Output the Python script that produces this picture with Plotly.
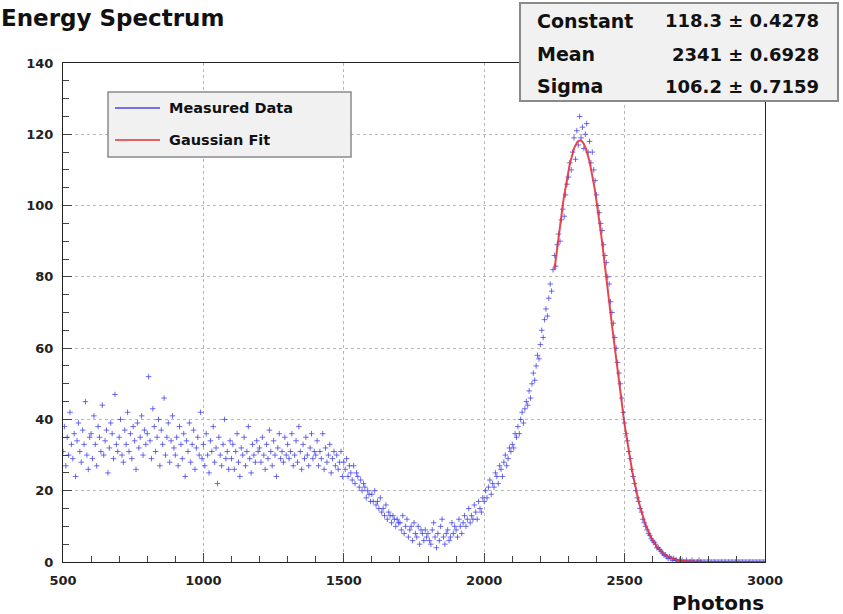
import numpy as np
import plotly.graph_objects as go

# Histogram contents, one bin every 5 photons from 500 to 3000
photons = np.arange(500, 3001, 5)
counts = [
    # 500-595
    31, 38, 27, 35, 30, 42, 33, 29, 36, 24, 34, 39, 31, 28, 37, 33, 45, 30, 26, 35,
    # 600-695
    36, 29, 41, 33, 27, 38, 35, 31, 44, 30, 34, 37, 25, 32, 39, 36, 29, 47, 33, 31,
    # 700-795
    35, 40, 30, 28, 37, 33, 42, 31, 36, 29, 38, 34, 26, 39, 32, 35, 41, 30, 37, 33,
    # 800-895
    36, 52, 34, 29, 43, 38, 31, 35, 40, 27, 37, 33, 46, 30, 35, 39, 28, 34, 41, 32,
    # 900-995
    30, 35, 27, 38, 33, 29, 36, 24, 34, 31, 39, 28, 33, 37, 26, 32, 35, 30, 42, 29,
    # 1000-1095
    33, 27, 36, 30, 25, 34, 31, 38, 28, 32, 22, 35, 30, 27, 33, 40, 29, 31, 26, 34,
    # 1100-1195
    29, 33, 26, 31, 36, 28, 24, 32, 30, 35, 27, 31, 38, 29, 25, 33, 30, 28, 34, 31,
    # 1200-1295
    32, 28, 35, 30, 26, 33, 29, 37, 31, 27, 34, 30, 24, 32, 36, 29, 31, 28, 35, 30,
    # 1300-1395
    33, 29, 31, 36, 27, 30, 34, 28, 38, 31, 26, 33, 29, 35, 30, 27, 32, 36, 29, 31,
    # 1400-1495
    30, 34, 27, 31, 29, 36, 26, 32, 28, 30, 33, 25, 29, 31, 27, 30, 26, 28, 31, 24,
    # 1500-1595
    28, 26, 29, 24, 27, 25, 23, 27, 22, 25, 24, 21, 23, 20, 22, 21, 18, 20, 19, 17,
    # 1600-1695
    19, 17, 20, 16, 17, 15, 18, 14, 15, 13, 16, 12, 14, 13, 11, 13, 12, 10, 12, 11,
    # 1700-1795
    11, 9, 13, 8, 10, 12, 7, 9, 10, 6, 11, 8, 7, 10, 5, 9, 8, 6, 9, 7,
    # 1800-1895
    8, 6, 5, 9, 11, 7, 4, 8, 6, 10, 12, 7, 5, 8, 9, 6, 7, 11, 8, 10,
    # 1900-1995
    9, 7, 12, 10, 8, 11, 13, 10, 12, 15, 11, 13, 12, 16, 14, 12, 17, 15, 14, 18,
    # 2000-2095
    17, 20, 18, 21, 23, 19, 22, 21, 25, 24, 22, 27, 26, 24, 28, 30, 27, 29, 32, 31,
    # 2100-2195
    33, 32, 36, 35, 38, 36, 40, 42, 39, 43, 45, 44, 48, 46, 50, 53, 51, 55, 58, 57,
    # 2200-2295
    61, 65, 63, 68, 71, 69, 74, 78, 76, 82, 86, 83, 89, 92, 90, 96, 99, 97, 103, 106,
    # 2300-2395
    108, 112, 110, 115, 119, 113, 121, 117, 125, 119, 122, 116, 120, 123, 115, 118, 112, 115, 110, 107,
    # 2400-2495
    103, 100, 98, 95, 93, 89, 86, 84, 80, 78, 73, 70, 67, 63, 60, 56, 53, 50, 46, 42,
    # 2500-2595
    39, 36, 34, 31, 29, 26, 24, 22, 20, 18, 17, 15, 14, 12, 11, 10, 9, 8, 7.5, 6.5,
    # 2600-2695
    6, 5.5, 5, 4, 4, 3.5, 3, 2.5, 2, 2, 1.5, 1, 1.5, 1, 0.5, 1, 0.5, 0.5, 0, 0.5,
    # 2700-2795
    0, 0.5, 0, 0, 0.5, 0, 0, 0, 0.5, 0, 0, 0, 0, 0.5, 0, 0, 0, 0, 0, 0,
    # 2800-2895
    0, 0, 0, 0, 0, 0, 0, 0, 0, 0, 0, 0, 0, 0, 0, 0, 0, 0, 0, 0,
    # 2900-3000
    0, 0, 0, 0, 0, 0, 0, 0, 0, 0, 0, 0, 0, 0, 0, 0, 0, 0, 0, 0, 0,
]
assert len(counts) == len(photons)

# Gaussian fit results
fit_constant, fit_constant_err = 118.3, 0.4278
fit_mean, fit_mean_err = 2341, 0.6928
fit_sigma, fit_sigma_err = 106.2, 0.7159
fit_range = (2250, 3000)

x_range = (500, 3000)
y_range = (0, 140)

fit_x = np.linspace(fit_range[0], fit_range[1], 376)
fit_y = fit_constant * np.exp(-0.5 * ((fit_x - fit_mean) / fit_sigma) ** 2)

FONT = "DejaVu Sans"
BLUE = "rgba(50,50,230,0.7)"
RED = "rgba(228,50,60,0.9)"

# plot frame in pixels (left, right, top, bottom)
L, R, T, B = 63, 765, 63, 562


def px(xp):
    return (xp - L) / (R - L)


def py(yp):
    return (B - yp) / (B - T)


fig = go.Figure()
fig.add_trace(go.Scatter(
    x=photons, y=counts, mode="markers", name="Measured Data",
    marker=dict(symbol="cross-thin", size=4, line=dict(width=1, color=BLUE), color=BLUE),
    showlegend=False,
))
fig.add_trace(go.Scatter(
    x=fit_x, y=fit_y, mode="lines", name="Gaussian Fit",
    line=dict(color=RED, width=2), showlegend=False,
))

axis_common = dict(
    showline=True, linecolor="#222", linewidth=1, mirror=True,
    ticks="inside", ticklen=9, tickcolor="#444", tickwidth=1,
    showgrid=True, gridcolor="#b8b8b8", griddash="dot", gridwidth=1,
    zeroline=False,
    tickfont=dict(family=FONT, size=13, color="#222", weight="bold"),
)

fig.update_xaxes(range=list(x_range), dtick=500, tick0=500,
                 minor=dict(dtick=100, ticks="inside", ticklen=6, tickcolor="#444", showgrid=False),
                 ticklabelstandoff=6, **axis_common)
fig.update_yaxes(range=list(y_range), dtick=20, tick0=0,
                 minor=dict(dtick=5, ticks="inside", ticklen=6, tickcolor="#444", showgrid=False),
                 ticklabelstandoff=6, **axis_common)

shapes = []
annotations = []

# statistics box
shapes.append(dict(type="rect", xref="paper", yref="paper",
                   x0=px(520), x1=px(838), y0=py(101), y1=py(3),
                   fillcolor="#f1f1f1", line=dict(color="#8a8a8a", width=2), layer="above"))
stat_rows = [
    ("Constant", f"{fit_constant:.1f} ± {fit_constant_err:.4f}", 21),
    ("Mean", f"{fit_mean:d} ± {fit_mean_err:.4f}", 54),
    ("Sigma", f"{fit_sigma:.1f} ± {fit_sigma_err:.4f}", 86),
]
for label, value, yc in stat_rows:
    annotations.append(dict(xref="paper", yref="paper", x=px(535), y=py(yc),
                            xanchor="left", yanchor="middle", text=label, showarrow=False,
                            font=dict(family=FONT, size=19, color="#111", weight="bold")))
    annotations.append(dict(xref="paper", yref="paper", x=px(821), y=py(yc),
                            xanchor="right", yanchor="middle", text=value, showarrow=False,
                            font=dict(family=FONT, size=18, color="#111", weight="bold")))

# legend box
shapes.append(dict(type="rect", xref="paper", yref="paper",
                   x0=px(108), x1=px(351), y0=py(157), y1=py(92),
                   fillcolor="#f1f1f1", line=dict(color="#8a8a8a", width=1.5), layer="above"))
legend_items = [("Measured Data", "rgba(90,90,235,0.85)", 108), ("Gaussian Fit", "rgba(232,80,85,0.9)", 140)]
for text, color, yc in legend_items:
    shapes.append(dict(type="line", xref="paper", yref="paper",
                       x0=px(115), x1=px(160), y0=py(yc), y1=py(yc),
                       line=dict(color=color, width=2), layer="above"))
    annotations.append(dict(xref="paper", yref="paper", x=px(167), y=py(yc),
                            xanchor="left", yanchor="middle", text=text, showarrow=False,
                            font=dict(family=FONT, size=14.5, color="#111", weight="bold")))

# title and axis title
annotations.append(dict(xref="paper", yref="paper", x=px(-1), y=py(18),
                        xanchor="left", yanchor="middle", text="Energy Spectrum", showarrow=False,
                        font=dict(family=FONT, size=23, color="#111", weight="bold")))
annotations.append(dict(xref="paper", yref="paper", x=px(766), y=py(603),
                        xanchor="right", yanchor="middle", text="Photons", showarrow=False,
                        font=dict(family=FONT, size=20, color="#111", weight="bold")))

fig.update_layout(
    width=843, height=614,
    margin=dict(l=L, r=843 - R, t=T, b=614 - B),
    paper_bgcolor="white", plot_bgcolor="white",
    shapes=shapes, annotations=annotations,
    showlegend=False,
)

fig.write_html("out.html")
